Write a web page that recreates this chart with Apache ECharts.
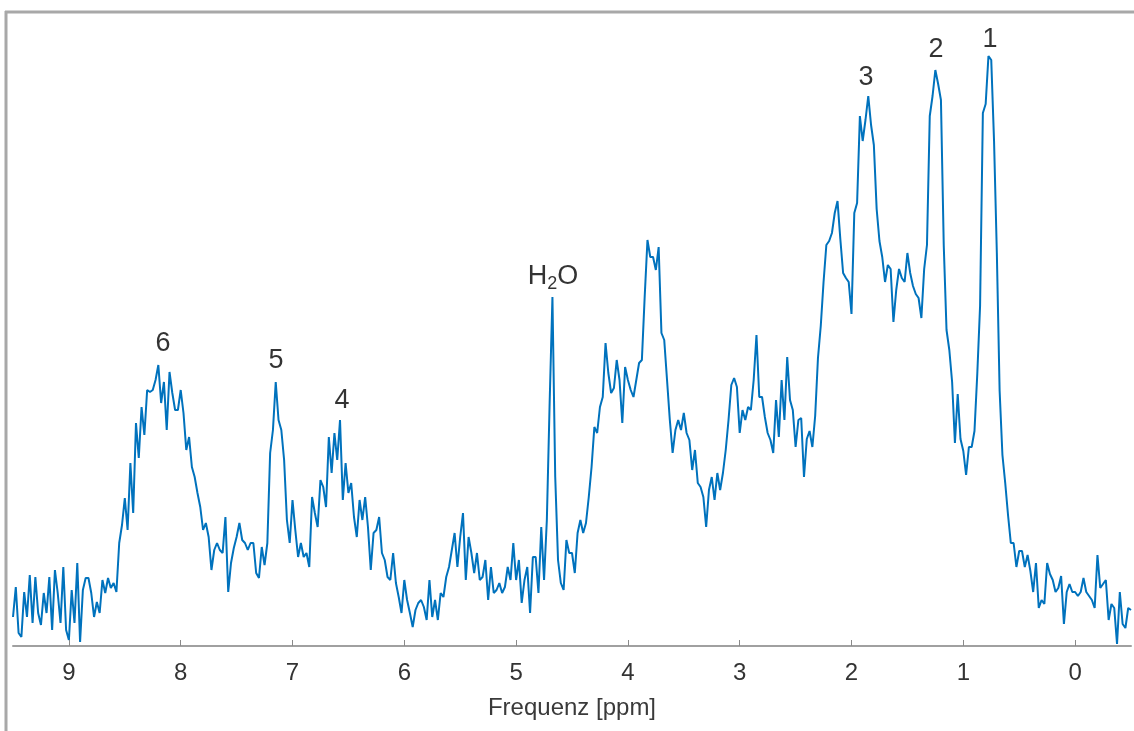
<!DOCTYPE html>
<html>
<head>
<meta charset="utf-8">
<script src="https://cdn.jsdelivr.net/npm/echarts@6/dist/echarts.min.js"></script>
<style>
html,body{margin:0;padding:0;background:#fff;}
#chart{width:1134px;height:731px;}
</style>
</head>
<body>
<div id="chart"></div>
<script>
// Spectrum sampled on a uniform ppm grid: first point at 9.5 ppm, step -0.025 ppm
const ppmStart = 9.5;
const ppmStep = -0.025;
// Intensities (arbitrary units)
const intensity = [
29,59,13,9,54,29,71,23,69,33,21,53,33,69,16,76,53,23,79,16,
6,56,23,83,4,56,68,68,53,29,44,33,66,53,68,58,63,54,103,121,
148,116,183,133,223,188,239,211,256,254,256,266,281,243,264,216,274,253,236,236,
256,233,196,209,179,169,153,139,116,123,109,76,96,103,96,93,129,54,83,98,
109,123,106,103,96,103,103,73,68,99,81,103,193,216,264,226,216,186,126,103,
146,116,89,103,89,93,79,149,133,119,166,159,139,209,173,213,186,226,146,183,
153,163,129,109,146,126,149,119,76,113,116,129,93,86,69,66,93,63,49,33,
66,46,33,19,36,43,46,39,26,66,29,46,26,53,49,69,79,96,113,79,
109,133,66,109,93,73,93,66,69,86,46,79,53,56,63,53,59,79,66,103,
66,86,43,66,79,33,89,89,53,119,66,126,243,349,169,86,63,56,106,93,
93,73,113,126,113,123,149,179,219,213,239,249,303,273,253,258,286,266,223,279,
266,256,249,266,283,286,349,406,389,389,376,399,313,306,266,226,193,216,226,216,
233,213,206,176,196,163,159,149,119,156,169,146,173,156,173,196,226,261,268,259,
213,236,226,239,236,266,311,249,249,229,213,206,193,246,209,266,226,289,246,236,
199,226,228,169,207,215,199,230,288,320,364,401,405,413,433,445,407,373,368,364,
332,433,443,530,505,526,550,521,501,437,405,389,364,381,377,324,356,377,368,364,
393,373,360,352,348,328,377,401,530,550,576,562,546,401,316,296,264,203,252,207,
195,171,199,199,215,272,340,533,542,590,586,505,393,255,191,163,131,103,103,79,
95,95,79,91,75,54,83,38,46,42,83,72,66,54,58,70,22,54,62,54,
54,50,54,68,54,50,46,38,91,58,62,66,26,42,38,2,54,22,18,38,
36
];
// Tick labels on the frequency axis
const tickValues = [9, 8, 7, 6, 5, 4, 3, 2, 1, 0];
// Peak annotations
const peakLabels = ['1', '2', '3', 'H2O', '4', '5', '6'];
const peakLabelPpm = [0.762, 1.245, 1.871, 4.671, 6.558, 7.148, 8.159];
const peakLabelHeight = [608, 598, 570, 371, 247, 287, 304];

const spectrum = intensity.map((v, i) => [+(ppmStart + ppmStep * i).toFixed(3), v]);
const labelData = peakLabels.map((t, i) => ({ value: [peakLabelPpm[i], peakLabelHeight[i]], name: t }));

const chart = echarts.init(document.getElementById('chart'), null, { renderer: 'canvas' });
const FONT = '"Liberation Sans", Arial, Helvetica, sans-serif';
chart.setOption({
  animation: false,
  backgroundColor: '#ffffff',
  grid: { left: 13, right: 3, top: 12, bottom: 85, containLabel: false },
  xAxis: {
    type: 'value',
    inverse: true,
    min: -0.5,
    max: 9.5,
    name: 'Frequenz [ppm]',
    nameLocation: 'middle',
    nameGap: 50,
    nameTextStyle: { fontFamily: FONT, fontSize: 24, color: '#3a3a3a' },
    axisLine: { show: true, onZero: false, lineStyle: { color: '#a0a0a0', width: 2 } },
    axisTick: { show: true, inside: true, length: 6, customValues: tickValues, lineStyle: { color: '#8a8a8a', width: 1 } },
    axisLabel: { show: true, customValues: tickValues, fontFamily: FONT, fontSize: 24, color: '#333333', margin: 15 },
    splitLine: { show: false }
  },
  yAxis: {
    type: 'value', min: 0, max: 634, show: false, splitLine: { show: false }
  },
  series: [
    {
      type: 'line',
      data: spectrum,
      showSymbol: false,
      symbol: 'none',
      lineStyle: { color: '#0072BD', width: 2 },
      itemStyle: { color: '#0072BD' },
      silent: true
    },
    {
      type: 'scatter',
      data: labelData,
      symbolSize: 0,
      silent: true,
      label: {
        show: true,
        position: 'inside',
        formatter: p => p.name === 'H2O' ? '{n|H}{s|2}{n|O}' : '{n|' + p.name + '}',
        rich: {
          n: { fontFamily: FONT, fontSize: 27, color: '#000', lineHeight: 30, verticalAlign: 'bottom' },
          s: { fontFamily: FONT, fontSize: 18, color: '#000', lineHeight: 30, verticalAlign: 'bottom', padding: [0, 0, -3, 0] }
        }
      }
    }
  ],
  graphic: [
    { type: 'line', silent: true, shape: { x1: 5, y1: 12, x2: 1134, y2: 12 }, style: { stroke: '#a8a8a8', lineWidth: 3 } },
    { type: 'line', silent: true, shape: { x1: 6, y1: 11, x2: 6, y2: 731 }, style: { stroke: '#a8a8a8', lineWidth: 3 } }
  ]
});
</script>
</body>
</html>
